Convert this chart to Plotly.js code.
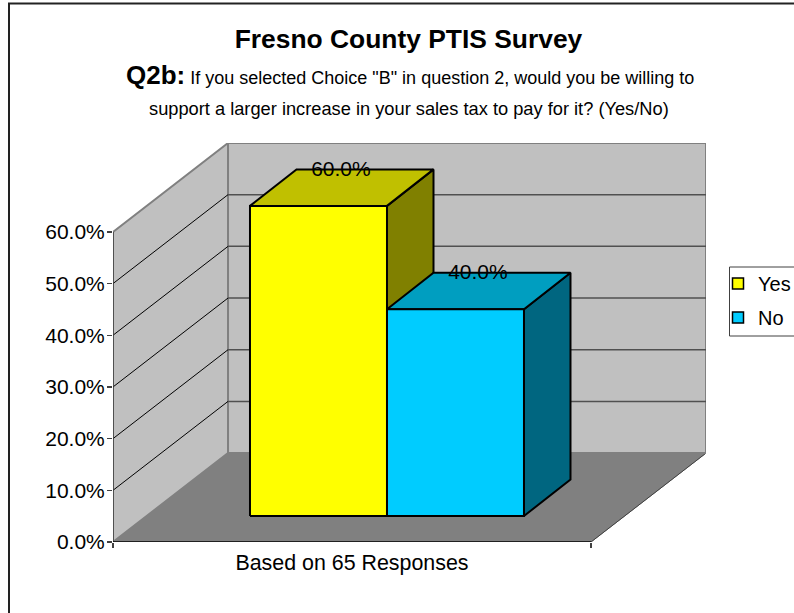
<!DOCTYPE html>
<html><head><meta charset="utf-8">
<script src="https://cdn.plot.ly/plotly-3.0.1.min.js"></script>
<style>html,body{margin:0;padding:0;background:#fff;overflow:hidden}#c{width:794px;height:613px}</style>
</head><body><div id="c"></div>
<script>
const seriesNames = ["Yes", "No"];
const seriesValues = [60, 40];
const valueLabels = ["60.0%", "40.0%"];
const frontColors = ["#FFFF00", "#00CCFF"];
const topColors = ["#C0C000", "#009EC0"];
const sideColors = ["#808000", "#006680"];
const categoryLabel = "Based on 65 Responses";
const yTicks = [0, 10, 20, 30, 40, 50, 60];
const yTickLabels = ["0.0%", "10.0%", "20.0%", "30.0%", "40.0%", "50.0%", "60.0%"];

// Oblique projection, in axis units
const wallDx = 0.2406, wallDy = 17.2;
const barDx = 0.0973, barDy = 7.06;
const barBase = 5.03, barLeft = 0.2866, barWidth = 0.2866;
const labelShift = 0.047, labelDrop = 0.2;
const xMax = 1 + wallDx, yMax = 60 + wallDy;

const poly = (xs, ys, fill, line, lw) => ({
  type: "scatter", mode: "lines", x: xs, y: ys, fill: "toself", fillcolor: fill,
  line: {color: line, width: lw}, hoverinfo: "skip", showlegend: false, cliponaxis: false
});
const seg = (xs, ys, color, w) => ({
  type: "scatter", mode: "lines", x: xs, y: ys, line: {color: color, width: w},
  hoverinfo: "skip", showlegend: false, cliponaxis: false
});

const traces = [];
// floor
traces.push(poly([0, 1, 1 + wallDx, wallDx, 0], [0, 0, wallDy, wallDy, 0], "#808080", "#808080", 1));
traces.push(seg([1, 1 + wallDx], [0, wallDy], "#404040", 1));
// back wall
traces.push(poly([wallDx, xMax, xMax, wallDx, wallDx], [wallDy, wallDy, yMax, yMax, wallDy], "#C0C0C0", "#808080", 2));
// side wall
traces.push(poly([0, wallDx, wallDx, 0, 0], [0, wallDy, yMax, 60, 0], "#C0C0C0", "#808080", 2));
// gridlines
yTicks.slice(1, -1).forEach(t => {
  traces.push(seg([0, wallDx], [t, t + wallDy], "#000000", 1));
  traces.push(seg([wallDx, xMax], [t + wallDy, t + wallDy], "#505050", 1.5));
});
// bars
seriesValues.forEach((v, i) => {
  const x0 = barLeft + i * barWidth, x1 = x0 + barWidth;
  const y0 = barBase, y1 = barBase + v;
  traces.push(poly([x1, x1 + barDx, x1 + barDx, x1, x1], [y0, y0 + barDy, y1 + barDy, y1, y0], sideColors[i], "#000000", 2));
  traces.push(poly([x0, x1, x1 + barDx, x0 + barDx, x0], [y1, y1, y1 + barDy, y1 + barDy, y1], topColors[i], "#000000", 2));
  traces.push(poly([x0, x1, x1, x0, x0], [y0, y0, y1, y1, y0], frontColors[i], "#000000", 2));
});
// axis lines
traces.push(seg([0, 0], [0, 60], "#404040", 1.5));
traces.push(seg([0, 1], [0, 0], "#000000", 1.5));
// data labels
traces.push({
  type: "scatter", mode: "text",
  x: seriesValues.map((v, i) => barLeft + (i + 0.5) * barWidth + labelShift),
  y: seriesValues.map(v => v + barBase + barDy - labelDrop),
  text: valueLabels, textposition: "middle center",
  textfont: {family: "Liberation Sans, Arial, sans-serif", size: 21, color: "#000"},
  hoverinfo: "skip", showlegend: false, cliponaxis: false
});
// legend entries
seriesNames.forEach((n, i) => traces.push({
  type: "scatter", mode: "markers", x: [null], y: [null], name: n, legendgroup: n,
  marker: {symbol: "square", size: 11, color: frontColors[i], line: {color: "#000", width: 1.5}}
}));
// category label axis carrier
traces.push({type: "scatter", mode: "markers", x: [null], y: [null], xaxis: "x2", showlegend: false, hoverinfo: "skip"});

const W = 794, H = 613, mL = 113, mR = 88, mT = 143, mB = 71;
const px = p => (p - mL) / (W - mL - mR), py = p => (H - mB - p) / (H - mT - mB);
const F = "Liberation Sans, Arial, sans-serif";

const layout = {
  width: W, height: H, margin: {l: mL, r: mR, t: mT, b: mB, pad: 0},
  paper_bgcolor: "#fff", plot_bgcolor: "rgba(0,0,0,0)", showlegend: true,
  font: {family: F, color: "#000"},
  title: {text: "Fresno County PTIS Survey", font: {family: F, size: 26.4, color: "#000", weight: "bold"},
    x: 408.5 / W, xanchor: "center", y: 1 - 39 / H, yanchor: "middle"},
  xaxis: {range: [0, xMax], tickmode: "array", tickvals: [0, 1], ticktext: ["", ""], ticks: "outside",
    ticklen: 5, tickwidth: 1.5, tickcolor: "#404040", showgrid: false, zeroline: false, showline: false, fixedrange: true},
  xaxis2: {range: [0, xMax], overlaying: "x", anchor: "y", side: "bottom", tickmode: "array", tickvals: [0.5],
    ticktext: [categoryLabel], ticks: "", showgrid: false, zeroline: false, showline: false, ticklabelstandoff: 6,
    tickfont: {family: F, size: 21.4, color: "#000"}, fixedrange: true},
  yaxis: {range: [0, yMax], tickmode: "array", tickvals: yTicks, ticktext: yTickLabels, ticks: "outside",
    ticklen: 5, tickwidth: 1.5, tickcolor: "#404040", showgrid: false, zeroline: false, showline: false, ticklabelstandoff: -2,
    tickfont: {family: F, size: 21, color: "#000"}, fixedrange: true},
  legend: {xref: "container", yref: "container", x: 727 / W, xanchor: "left", y: 1 - 264 / H, yanchor: "top",
    bgcolor: "rgba(0,0,0,0)", borderwidth: 0, tracegroupgap: 5,
    indentation: -9, font: {family: F, size: 20, color: "#000"}},
  annotations: [
    {xref: "paper", yref: "paper", x: px(409.5), y: py(75.5), xanchor: "center", yanchor: "middle", showarrow: false,
     text: '<b style="font-size:26px">Q2b:</b> If you selected Choice "B" in question 2, would you be willing to', font: {family: F, size: 18, color: "#000"}},
    {xref: "paper", yref: "paper", x: px(409), y: py(109), xanchor: "center", yanchor: "middle", showarrow: false,
     text: 'support a larger increase in your sales tax to pay for it? (Yes/No)', font: {family: F, size: 18.25, color: "#000"}}
  ],
  shapes: [
    {type: "rect", xref: "paper", yref: "paper", x0: px(9), x1: px(900), y0: py(3.5), y1: py(700), line: {color: "#222", width: 2}, fillcolor: "rgba(0,0,0,0)", layer: "below"},
    {type: "rect", xref: "paper", yref: "paper", x0: px(729.5), x1: px(820), y0: py(267), y1: py(336), line: {color: "#404040", width: 1}, fillcolor: "#fff", layer: "below"}
  ]
};
Plotly.newPlot("c", traces, layout, {displayModeBar: false, staticPlot: true});
</script></body></html>
